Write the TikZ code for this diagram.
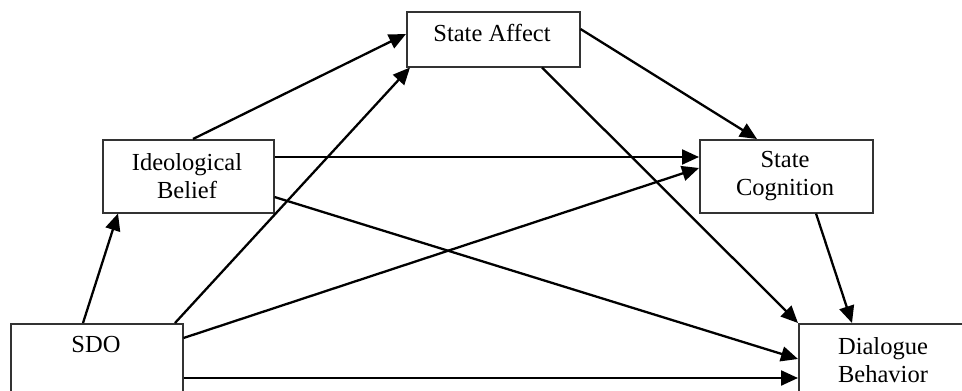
\documentclass[tikz,border=0pt]{standalone}
\usepackage{fontspec}
\setmainfont{Liberation Serif}
\usetikzlibrary{arrows.meta}
\begin{document}
\begin{tikzpicture}[x=1pt,y=-1pt,
  boxnode/.style={draw=black!80,line width=1.5pt,fill=white,inner sep=0pt,anchor=north west},
  lbl/.style={font=\fontsize{24.5}{28}\selectfont,align=center,inner sep=0pt},
  conn/.style={line width=2.3pt,-{Triangle[length=17pt,width=15pt]}}]
\useasboundingbox (0,0) rectangle (962,391);
\clip (0,0) rectangle (962,391);
% boxes
\node[boxnode,minimum width=173pt,minimum height=55pt] (sa) at (406,11) {};
\node[boxnode,minimum width=171pt,minimum height=73pt] (ib) at (102,139) {};
\node[boxnode,minimum width=173pt,minimum height=73pt] (sc) at (699,139) {};
\node[boxnode,minimum width=172pt,minimum height=100pt] (sdo) at (10,323) {};
\node[boxnode,minimum width=200pt,minimum height=100pt] (db) at (798,323) {};
% labels
\node[lbl] (tsa) at (492,33) {State Affect};
\node[lbl] (tib) at (187,176) {Ideological\\Belief};
\node[lbl] (tsc) at (785,176) {State\\Cognition};
\node[lbl] (tsdo) at (96,345) {SDO};
\node[lbl] (tdb) at (883,360) {Dialogue\\Behavior};
% connectors
\draw[conn] ([xshift=73pt]sdo.north west) -- ([xshift=16pt]ib.south west);
\draw[conn] ([xshift=165pt]sdo.north west) -- ([xshift=4pt]sa.south west);
\draw[conn] ([yshift=-15pt]sdo.north east) -- ([yshift=-29pt]sc.north west);
\draw[conn] ([yshift=-55pt]sdo.north east) -- ([yshift=-55pt]db.north west);
\draw[conn] ([xshift=91pt]ib.north west) -- ([yshift=-23pt]sa.north west);
\draw[conn] ([yshift=-18pt]ib.north east) -- ([yshift=-18pt]sc.north west);
\draw[conn] ([yshift=-58pt]ib.north east) -- ([yshift=-36pt]db.north west);
\draw[conn] ([yshift=-18pt]sa.north east) -- ([xshift=58pt]sc.north west);
\draw[conn] ([xshift=136pt]sa.south west) -- (db.north west);
\draw[conn] ([xshift=117pt]sc.south west) -- ([xshift=54pt]db.north west);
\end{tikzpicture}
\end{document}
